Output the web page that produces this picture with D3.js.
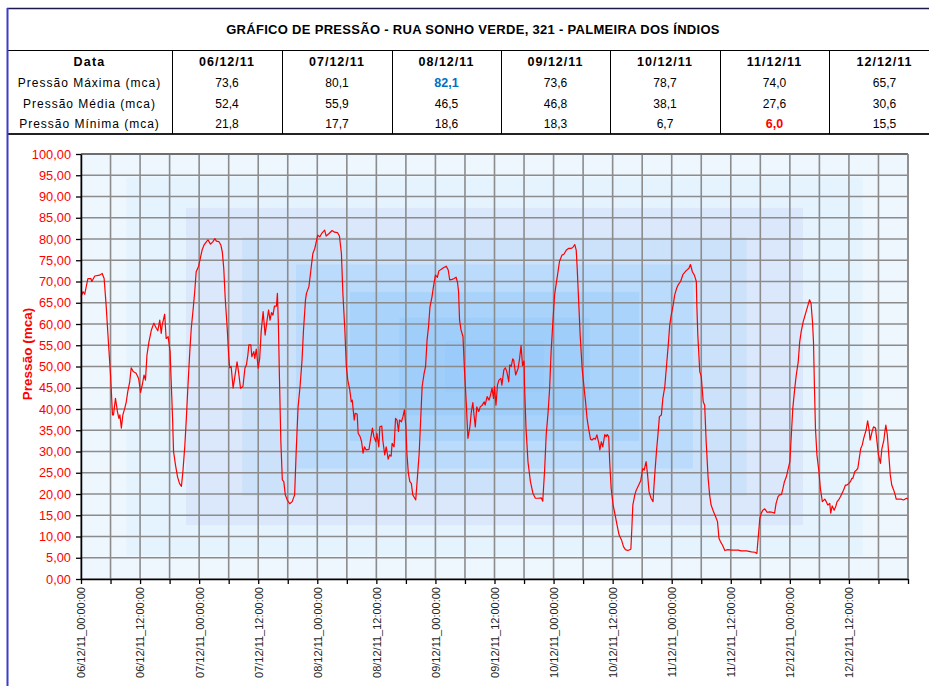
<!DOCTYPE html>
<html>
<head>
<meta charset="utf-8">
<script src="https://cdn.jsdelivr.net/npm/d3@7"></script>
<style>
  html, body { margin: 0; padding: 0; background: #ffffff; }
  svg { display: block; font-family: "Liberation Sans", Arial, sans-serif; }
</style>
</head>
<body>
<svg id="chart" width="929" height="686"></svg>
<script>
// ---------------- DATA ----------------
const chartTitle = "GRÁFICO DE PRESSÃO - RUA SONHO VERDE, 321 - PALMEIRA DOS ÍNDIOS";
const tableDates = ["06/12/11", "07/12/11", "08/12/11", "09/12/11", "10/12/11", "11/12/11", "12/12/11"];
const rowLabels = ["Pressão Máxima (mca)", "Pressão Média (mca)", "Pressão Mínima (mca)"];
const pressaoMaxima = ["73,6", "80,1", "82,1", "73,6", "78,7", "74,0", "65,7"];
const pressaoMedia  = ["52,4", "55,9", "46,5", "46,8", "38,1", "27,6", "30,6"];
const pressaoMinima = ["21,8", "17,7", "18,6", "18,3", "6,7", "6,0", "15,5"];
const highlightMax = 2;   // 82,1 (blue)
const highlightMin = 5;   // 6,0  (red)

const yTicks = [0,5,10,15,20,25,30,35,40,45,50,55,60,65,70,75,80,85,90,95,100];
const startDate = new Date(2011, 11, 6, 0, 0, 0);
const endDate = new Date(2011, 11, 13, 0, 0, 0);

// hours since 06/12/11 00:00
const horas = [
0,0.4,0.75,1.4,2.0,2.2,2.8,3.8,4.3,4.7,5.1,5.6,6.0,6.4,6.6,7.0,7.4,7.7,7.9,8.2,8.5,8.9,9.2,9.5,9.9,10.2,10.6,11.2,11.7,12.1,12.5,12.8,13.1,13.4,13.8,14.3,14.8,15.3,15.6,16.0,16.3,16.5,17.0,17.3,17.7,18.1,18.3,18.6,18.8,19.2,19.6,20.0,20.4,20.7,21.1,21.4,21.7,22.1,22.4,22.8,23.1,23.4,23.9,24.3,24.6,25.0,25.5,25.8,26.3,26.8,27.2,27.5,28.0,28.4,28.7,29.0,29.3,29.7,30.0,30.2,30.5,30.9,31.2,31.7,32.0,32.4,32.9,33.3,33.6,33.9,34.1,34.5,34.7,35.1,35.3,35.6,36.0,36.3,36.6,37.0,37.4,37.8,38.1,38.4,38.7,39.0,39.3,39.7,39.9,40.1,40.3,40.6,40.9,41.2,41.5,
41.9,42.4,42.9,43.4,43.7,44.1,44.5,44.9,45.2,45.6,45.8,46.3,46.7,47.1,47.5,47.8,48.1,48.5,48.9,49.5,49.8,50.4,51.0,51.5,52.1,52.5,52.9,53.2,53.6,53.9,54.2,54.6,54.9,55.1,55.5,55.7,56.1,56.3,56.7,57.0,57.3,57.6,57.9,58.5,58.8,59.2,59.5,59.9,60.1,60.5,60.7,61.1,61.3,61.7,62.0,62.4,62.7,63.0,63.2,63.6,63.9,64.2,64.5,64.7,65.1,65.4,65.7,66.0,66.2,66.5,66.8,67.1,67.4,67.8,68.0,68.3,68.7,69.0,69.3,69.7,70.0,70.3,70.6,70.9,71.3,71.6,72.0,72.4,72.7,73.2,73.7,74.2,74.6,74.9,75.4,75.8,76.2,76.5,76.7,76.9,77.2,77.6,77.9,78.3,78.6,79.0,79.3,79.6,79.8,80.1,80.4,80.8,81.1,81.5,81.9,82.1,82.5,82.9,83.2,83.5,
83.8,84.0,84.3,84.6,84.9,85.3,85.5,85.9,86.2,86.5,86.9,87.1,87.4,87.7,87.9,88.3,88.8,89.1,89.4,89.7,90.0,90.1,90.4,90.8,91.3,91.8,92.3,92.9,93.5,93.8,94.2,94.5,94.9,95.2,95.5,95.9,96.2,96.5,96.9,97.2,97.7,98.1,98.6,99.1,99.6,99.9,100.3,100.6,100.8,101.1,101.4,101.8,102.2,102.5,102.8,103.1,103.5,103.8,104.2,104.5,104.8,105.2,105.4,105.7,106.0,106.4,106.7,106.9,107.2,107.4,107.7,108.1,108.5,108.9,109.3,109.8,110.2,110.6,111.1,111.7,111.9,112.1,112.5,112.8,113.3,113.7,114.1,114.4,114.8,115.1,115.4,115.8,116.2,116.5,116.9,117.2,117.5,117.9,118.2,118.6,118.9,119.3,119.6,119.9,120.3,120.6,121.0,121.3,121.8,122.3,122.9,123.5,123.8,124.2,124.6,125.0,
125.1,125.3,125.7,126.0,126.4,126.7,127.0,127.4,127.7,128.0,128.5,128.9,129.3,129.6,129.9,130.3,130.8,131.4,132.1,132.8,133.5,134.1,135.2,136.2,136.9,137.3,137.5,137.9,138.2,138.5,138.9,139.4,139.9,140.4,140.9,141.2,141.6,141.9,142.3,142.6,142.9,143.3,143.6,144.0,144.3,144.6,145.0,145.3,145.7,146.0,146.3,146.7,147.0,147.3,147.7,148.0,148.3,148.6,148.8,149.0,149.2,149.5,149.9,150.2,150.6,151.1,151.4,151.7,152.1,152.3,152.6,153.0,153.3,153.6,153.9,154.3,154.7,154.9,155.3,155.6,156.0,156.3,156.6,156.8,157.2,157.5,157.8,158.1,158.4,158.7,159.0,159.3,159.5,159.8,160.1,160.3,160.7,161.0,161.4,161.7,162.0,162.4,162.7,163.1,163.3,163.5,163.8,164.1,164.4,164.7,165.1,165.4,165.6,166.2,166.6,167.1,167.7,168.0
];
const pressao = [
66.4,67.6,67.0,70.7,70.7,70.0,71.3,71.5,71.9,70.7,64.5,55.1,48.0,38.6,38.6,42.5,39.4,37.8,38.6,35.5,38.6,40.2,41.7,44.1,46.4,49.7,48.8,48.4,47.2,43.9,46.0,48.0,46.8,52.7,55.8,58.6,60.2,59.0,58.4,60.9,57.8,59.8,62.3,56.6,57.0,53.5,47.2,37.8,30.0,26.8,24.1,22.5,21.8,25.3,31.5,37.8,44.9,53.5,59.0,63.7,67.6,72.3,73.6,75.8,77.4,78.6,79.4,79.8,78.8,79.4,80.1,79.5,79.4,78.6,77.0,73.1,66.0,59.0,52.7,49.7,50.0,44.9,47.2,51.1,48.8,44.9,45.3,49.6,50.4,52.7,55.1,55.1,52.3,53.5,51.9,54.1,49.6,51.9,58.2,62.9,57.4,60.9,63.3,60.9,62.7,62.1,64.2,64.2,67.2,59.8,48.0,32.3,23.3,22.9,19.8,
18.6,17.7,18.2,19.8,29.6,40.5,45.3,51.5,58.6,65.6,67.2,68.8,72.7,76.6,77.8,79.4,80.9,80.5,81.3,82.1,80.7,81.3,82.0,81.6,81.5,80.7,76.6,67.2,58.6,50.0,46.8,44.5,41.7,42.1,37.4,39.0,38.8,34.3,33.5,32.3,29.6,31.1,30.4,30.5,32.7,35.5,33.5,32.3,34.3,31.1,35.8,36.0,32.7,29.2,31.1,28.2,29.2,28.9,31.9,31.1,37.8,37.4,34.7,37.4,37.0,38.2,39.8,35.8,29.6,24.9,22.9,22.5,19.8,19.0,18.6,23.3,29.6,37.4,45.3,48.4,50.0,56.2,59.4,64.1,66.4,68.8,71.5,71.0,72.5,72.9,73.3,73.6,72.7,70.4,70.5,70.7,71.0,69.7,67.6,60.9,58.6,57.0,49.2,40.5,33.1,35.8,39.4,41.5,39.0,35.8,40.5,39.4,40.5,40.9,41.7,40.9,42.9,42.1,43.3,44.9,
42.5,45.3,40.9,45.6,46.8,47.2,45.6,49.2,49.7,48.8,46.4,50.4,50.0,51.8,51.5,48.0,49.6,51.9,54.9,50.2,51.3,45.6,35.5,27.6,22.9,20.2,19.0,19.0,19.1,18.3,26.0,33.9,39.4,44.9,53.5,61.3,66.8,69.2,72.3,74.7,76.2,76.4,77.4,77.8,77.8,78.0,78.7,77.4,73.1,65.3,57.4,49.6,44.9,41.7,37.8,35.5,32.9,32.7,33.1,32.9,33.9,31.9,30.4,32.3,31.1,34.0,33.5,34.0,33.5,27.6,21.3,17.4,15.1,12.7,10.4,9.2,7.6,6.9,6.7,7.0,11.9,17.4,19.8,20.9,22.1,23.1,26.0,25.6,27.6,24.5,20.5,19.0,18.2,23.7,30.0,33.9,38.2,38.6,42.5,45.3,49.6,55.1,59.8,62.1,64.5,66.8,68.4,69.2,70.0,71.7,72.5,73.1,74.0,72.3,71.5,70.0,
64.5,57.4,48.8,47.6,41.7,40.9,32.3,23.7,19.8,17.4,15.8,14.7,13.5,9.6,8.8,8.0,6.7,6.9,6.8,6.8,6.8,6.6,6.6,6.4,6.3,6.0,8.8,14.3,15.5,16.2,16.5,15.7,15.8,15.7,15.5,17.8,19.4,19.8,19.9,21.3,22.9,24.1,25.6,27.6,33.9,40.2,44.9,48.0,51.1,55.8,58.2,60.5,61.7,62.9,64.5,65.7,64.9,60.5,55.8,44.9,35.5,29.2,25.3,21.3,18.2,18.8,18.2,17.4,17.8,15.5,17.2,16.2,17.0,18.2,18.6,19.4,20.4,20.9,22.1,22.1,22.5,22.9,23.7,23.7,25.3,25.6,26.0,28.4,30.7,31.5,33.1,34.3,35.1,37.2,35.1,32.7,34.7,35.8,35.5,32.3,29.2,27.2,30.7,32.7,34.7,36.2,33.9,29.2,24.5,22.1,20.9,19.8,18.8,18.8,18.8,18.6,19.0,18.8
];

// ---------------- LAYOUT ----------------
const svg = d3.select("#chart");
const W = 929, H = 686;
const plot = { left: 81, right: 908, top: 154, bottom: 579 };

svg.append("rect").attr("width", W).attr("height", H).attr("fill", "#ffffff");

// ---------------- TABLE ----------------
const tbl = svg.append("g");
const tblLeft = 7;
const colEdges = [7, 172, 282, 392, 501, 610, 720, 829, 940];
const headerTop = 50, tblBottom = 134;

// title
tbl.append("text")
  .attr("x", 473).attr("y", 34)
  .attr("text-anchor", "middle")
  .attr("font-size", "13px").attr("font-weight", "bold")
  .attr("letter-spacing", "0.3px")
  .attr("fill", "#000")
  .text(chartTitle);

// horizontal lines
tbl.append("line").attr("x1", tblLeft).attr("x2", W).attr("y1", 8.5).attr("y2", 8.5)
  .attr("stroke", "#1a1a4a").attr("stroke-width", 1.5);
tbl.append("line").attr("x1", tblLeft).attr("x2", W).attr("y1", headerTop + 0.5).attr("y2", headerTop + 0.5)
  .attr("stroke", "#000").attr("stroke-width", 1);
tbl.append("line").attr("x1", tblLeft).attr("x2", W).attr("y1", tblBottom).attr("y2", tblBottom)
  .attr("stroke", "#222").attr("stroke-width", 2);

// vertical lines
tbl.selectAll("line.col").data(colEdges.slice(1, -1)).enter().append("line")
  .attr("x1", d => d + 0.5).attr("x2", d => d + 0.5)
  .attr("y1", headerTop).attr("y2", tblBottom)
  .attr("stroke", "#000").attr("stroke-width", 1);

// header
const headerY = 66;
tbl.append("text").attr("x", (colEdges[0] + colEdges[1]) / 2).attr("y", headerY)
  .attr("text-anchor", "middle").attr("font-size", "12.5px").attr("font-weight", "bold")
  .attr("letter-spacing", "1.2px").text("Data");
tbl.selectAll("text.hdr").data(tableDates).enter().append("text")
  .attr("x", (d, i) => (colEdges[i + 1] + colEdges[i + 2]) / 2)
  .attr("y", headerY)
  .attr("text-anchor", "middle").attr("font-size", "12.5px").attr("font-weight", "bold")
  .attr("letter-spacing", "1px")
  .text(d => d);

const rowsData = [pressaoMaxima, pressaoMedia, pressaoMinima];
const rowBaselines = [87, 108, 128];
rowLabels.forEach((lab, r) => {
  tbl.append("text").attr("x", (colEdges[0] + colEdges[1]) / 2).attr("y", rowBaselines[r])
    .attr("text-anchor", "middle").attr("font-size", "12px").attr("letter-spacing", "1px")
    .text(lab);
  rowsData[r].forEach((v, i) => {
    const t = tbl.append("text")
      .attr("x", (colEdges[i + 1] + colEdges[i + 2]) / 2)
      .attr("y", rowBaselines[r])
      .attr("text-anchor", "middle").attr("font-size", "12px")
      .text(v);
    if (r === 0 && i === highlightMax) t.attr("fill", "#0070c0").attr("font-weight", "bold").attr("font-size", "12.5px");
    if (r === 2 && i === highlightMin) t.attr("fill", "#ff0000").attr("font-weight", "bold").attr("font-size", "12.5px");
  });
});

// left blue border
svg.append("line").attr("x1", 7.5).attr("x2", 7.5).attr("y1", 8).attr("y2", H)
  .attr("stroke", "#3c3cc8").attr("stroke-width", 2);

// ---------------- CHART ----------------
const x = d3.scaleTime().domain([startDate, endDate]).range([plot.left, plot.right]);
const y = d3.scaleLinear().domain([0, 100]).range([plot.bottom, plot.top]);

// rectangular "from center" gradient background (stepped bands)
const bg = svg.append("g");
const cx = (plot.left + plot.right) / 2, cy = (plot.top + plot.bottom) / 2;
const hw = (plot.right - plot.left) / 2, hh = (plot.bottom - plot.top) / 2;
const bgColor = d3.scaleLinear()
  .domain([0, 0.3, 0.45, 0.6, 0.75, 0.89, 1])
  .range(["#95c7f9", "#a3d0fb", "#b6d9fb", "#cbe1fa", "#dbe8fb", "#e4f3fe", "#eef6fe"]);
const bands = [1, 0.89, 0.746, 0.61, 0.48, 0.35, 0.23, 0.12];
bg.selectAll("rect").data(bands).enter().append("rect")
  .attr("x", t => cx - t * hw).attr("y", t => cy - t * hh)
  .attr("width", t => 2 * t * hw).attr("height", t => 2 * t * hh)
  .attr("fill", t => bgColor(t));

// gridlines
const xTicks = d3.timeHour.every(6).range(startDate, d3.timeHour.offset(endDate, 1));
const grid = svg.append("g");
grid.selectAll("line.h").data(yTicks).enter().append("line")
  .attr("x1", plot.left).attr("x2", plot.right)
  .attr("y1", d => y(d)).attr("y2", d => y(d))
  .attr("stroke", "#8c8c8c").attr("stroke-width", 1.6);
grid.selectAll("line.v").data(xTicks).enter().append("line")
  .attr("x1", d => x(d)).attr("x2", d => x(d))
  .attr("y1", plot.top).attr("y2", plot.bottom)
  .attr("stroke", "#8c8c8c").attr("stroke-width", 1.6);
// frame
svg.append("line").attr("x1", plot.left).attr("x2", plot.right).attr("y1", plot.top).attr("y2", plot.top)
  .attr("stroke", "#6e6e6e").attr("stroke-width", 2);
svg.append("line").attr("x1", plot.right).attr("x2", plot.right).attr("y1", plot.top).attr("y2", plot.bottom)
  .attr("stroke", "#8c8c8c").attr("stroke-width", 1.6);

// series line
const pts = horas.map((h, i) => ({ t: d3.timeMinute.offset(startDate, Math.round(h * 60)), v: pressao[i] }));
svg.append("path").datum(pts)
  .attr("fill", "none").attr("stroke", "#ff0000").attr("stroke-width", 1.2)
  .attr("stroke-linejoin", "round")
  .attr("d", d3.line().x(d => x(d.t)).y(d => y(d.v)));

// y axis
const fmtY = d => d3.format(".2f")(d).replace(".", ",");
const yAxis = svg.append("g").attr("transform", `translate(${plot.left},0)`)
  .call(d3.axisLeft(y).tickValues(yTicks).tickFormat(fmtY).tickSize(5).tickPadding(5).tickSizeOuter(0));
yAxis.select(".domain").attr("stroke", "#000").attr("stroke-width", 1.5);
yAxis.selectAll(".tick line").attr("stroke", "#000").attr("stroke-width", 1.3);
yAxis.selectAll(".tick text").attr("fill", "#ff0000").attr("font-size", "12.8px")
  .attr("font-family", "'Liberation Sans', Arial, sans-serif");

// x axis
const fmtX = d3.timeFormat("%d/%m/%y_%H:%M:%S");
const xAxis = svg.append("g").attr("transform", `translate(0,${plot.bottom})`)
  .call(d3.axisBottom(x).tickValues(xTicks).tickSize(5).tickSizeOuter(0)
    .tickFormat(d => (d.getHours() % 12 === 0 && d < endDate) ? fmtX(d) : ""));
xAxis.select(".domain").attr("stroke", "#000").attr("stroke-width", 1.5);
xAxis.selectAll(".tick line").attr("stroke", "#000").attr("stroke-width", 1.3);
xAxis.selectAll(".tick text")
  .attr("font-size", "11px").attr("fill", "#222")
  .attr("font-family", "'Liberation Sans', Arial, sans-serif")
  .attr("text-anchor", "end")
  .attr("transform", "rotate(-90)")
  .attr("x", -8).attr("y", 0).attr("dy", "0.35em");

// y axis title
svg.append("text")
  .attr("transform", "translate(32,354) rotate(-90)")
  .attr("text-anchor", "middle")
  .attr("font-size", "13.5px").attr("font-weight", "bold").attr("fill", "#ff0000")
  .text("Pressão (mca)");
</script>
</body>
</html>
